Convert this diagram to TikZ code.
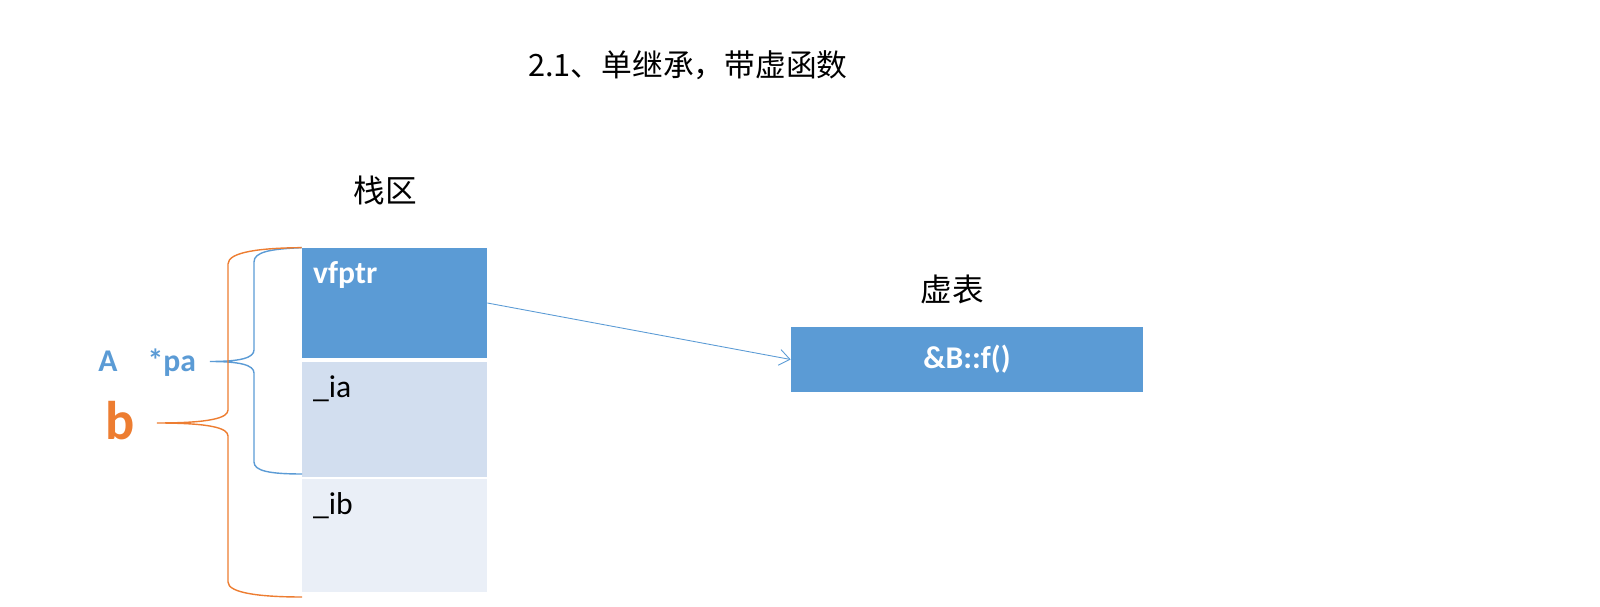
\documentclass[tikz,border=0pt]{standalone}
\usepackage{fontspec}
\setmainfont{Carlito}
\newfontfamily\cjk{Noto Sans CJK SC}
\usepackage{tikz}
\usetikzlibrary{arrows.meta,positioning,calc}
\definecolor{cellblue}{HTML}{5B9BD5}
\definecolor{celllight}{HTML}{D2DEEF}
\definecolor{cellpale}{HTML}{EAEFF7}
\definecolor{braceorange}{HTML}{ED7D31}

\begin{document}
\begin{tikzpicture}[
  x=0.02cm, y=-0.02cm,
  cell/.style={rectangle, minimum width=3.7cm, inner sep=0pt},
  celltext/.style={anchor=base west, inner sep=0pt, font=\fontsize{18}{20}\selectfont},
  heading/.style={inner sep=0pt, font=\cjk\fontsize{18}{20}\selectfont},
  brace/.style={line width=0.8pt},
  arr/.style={-{Straight Barb[length=6pt, width=9pt]}, cellblue, line width=0.5pt}
]
\useasboundingbox (0,0) rectangle (1600,607);

% Title
\node[heading, font=\cjk\fontsize{17.5}{20}\selectfont] (title) at (688,65) {2.1、单继承，带虚函数};

% Stack area
\node[heading] (stack) at (385,190) {栈区};
\node[cell, fill=cellblue, minimum height=2.2cm] (vfptr) at (394.5,303) {};
\node[cell, fill=celllight, minimum height=2.3cm] (ia) at (394.5,419.5) {};
\node[cell, fill=cellpale, minimum height=2.26cm] (ib) at (394.5,535.5) {};
\node[celltext, text=white, font=\bfseries\fontsize{18}{20}\selectfont] (vfptrtext) at ($(vfptr.north west)+(11,36)$) {vfptr};
\node[celltext] (iatext) at ($(ia.north west)+(11,36)$) {\_ia};
\node[celltext] (ibtext) at ($(ib.north west)+(11,36)$) {\_ib};

% Virtual table
\node[heading] (vtab) at (952,289) {虚表};
\node[rectangle, fill=cellblue, minimum width=7.04cm, minimum height=1.3cm, inner sep=0pt,
  text=white, font=\bfseries\fontsize{18}{20}\selectfont] (entry) at (967,359.5) {\&B::f()};
\draw[arr] (vfptr.east) -- (entry.west);

% Braces
\node[anchor=base west, inner sep=0pt, text=cellblue, font=\bfseries\fontsize{18}{20}\selectfont] (pa) at (98,372) {A\hspace{0.95em}*pa};
\node[anchor=base west, inner sep=0pt, text=braceorange, font=\bfseries\fontsize{31}{34}\selectfont] (b) at (105,440) {b};
\draw[brace, cellblue] (vfptr.north west) .. controls (270,249) and (254,252) .. (254,262) -- (254,350)
  .. controls (254,358) and (240,361.5) .. (210,361.5)
  .. controls (240,361.5) and (254,365) .. (254,373) -- (254,462)
  .. controls (254,471) and (270,474) .. (302,474);
\draw[brace, braceorange] (vfptr.north west) .. controls (260,248) and (228,252) .. (228,264) -- (228,410)
  .. controls (228,418) and (210,423) .. (157,423)
  .. controls (210,423) and (228,428) .. (228,436) -- (228,582)
  .. controls (228,593) and (260,597) .. (302,597);

\end{tikzpicture}
\end{document}
